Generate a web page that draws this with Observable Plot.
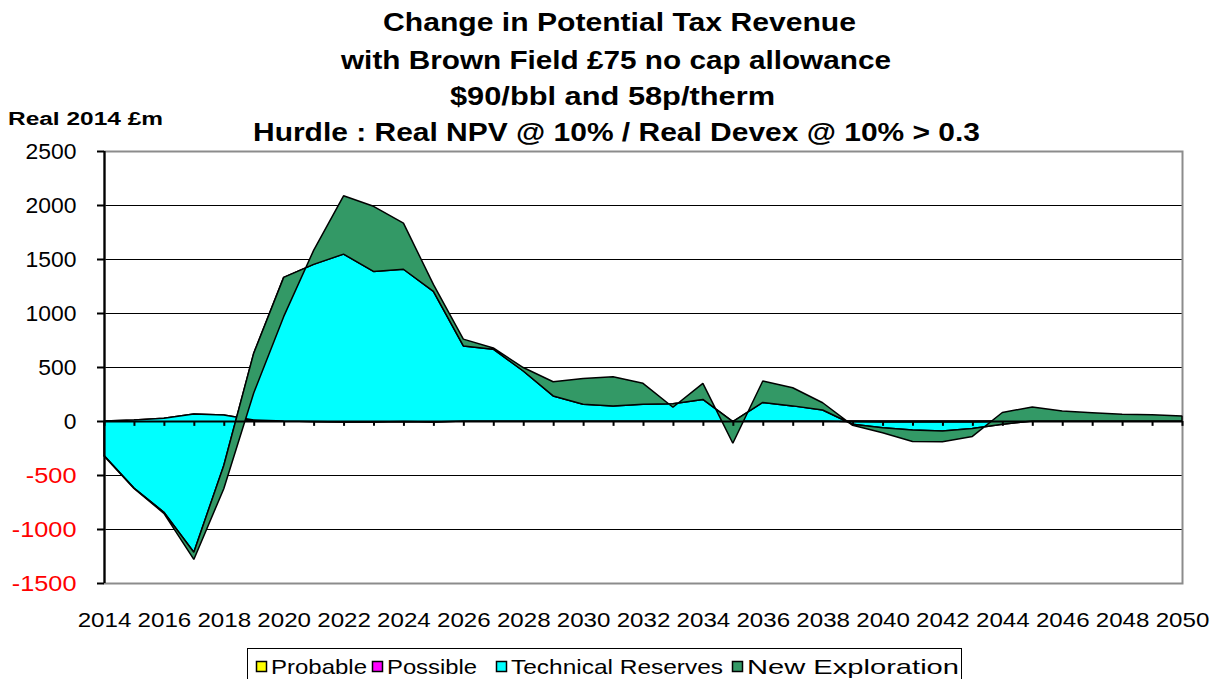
<!DOCTYPE html>
<html>
<head>
<meta charset="utf-8">
<script src="https://cdn.jsdelivr.net/npm/d3@7"></script>
<script src="https://cdn.jsdelivr.net/npm/@observablehq/plot@0.6"></script>
<style>
  html, body { margin: 0; padding: 0; background: #fff; }
  #wrap { position: relative; width: 1214px; height: 679px; overflow: hidden; font-family: "Liberation Sans", Arial, sans-serif; }
  #wrap > svg { position: absolute; left: 0; top: 0; }
</style>
</head>
<body>
<div id="wrap"></div>
<script>
// ---- data ----
const years = [2014,2015,2016,2017,2018,2019,2020,2021,2022,2023,2024,2025,2026,2027,2028,2029,2030,2031,2032,2033,2034,2035,2036,2037,2038,2039,2040,2041,2042,2043,2044,2045,2046,2047,2048,2049,2050];
const probable    = [0,5,15,40,35,5,0,-5,-5,-5,0,-5, 0,0,0,0,0,0,0,0,0,0,0,0,0, -5,-5,-5,-5,-5,0, 0,0,0,0,0,0];
const possible    = [0,5,10,25,20,5,0,0,-5,-5,-5,-5, 0,0,0,0,0,0,0,0,0,0,0,0,0, 0,-5,-5,-5,-5,-5, 0,0,0,0,0,0];
const technical   = [-320,-630,-870,-1280,-467,618,1330,1455,1555,1395,1410,1210, 695,665,463,232,155,140,155,160,200,-5,172,140,102, -25,-52,-73,-83,-60,-26, 0,0,0,0,0,0];
const exploration = [-5,-5,-10,-67,-215,-368,-364,130,540,603,427,65, 63,11,32,131,239,270,194,-33,149,-201,198,168,67, -10,-46,-107,-99,-73,110, 130,93,77,62,58,46];
const seriesNames = ["Probable", "Possible", "Technical Reserves", "New Exploration"];
const seriesColors = ["#FFFF00", "#FF00FF", "#00FFFF", "#339966"];
const yTicks = [-1500,-1000,-500,0,500,1000,1500,2000,2500];
const xLabelYears = [2014,2016,2018,2020,2022,2024,2026,2028,2030,2032,2034,2036,2038,2040,2042,2044,2046,2048,2050];
const titleLines = ["Change in Potential Tax Revenue", "with Brown Field £75 no cap allowance", "$90/bbl and 58p/therm", "Hurdle : Real NPV @ 10% / Real Devex @ 10% > 0.3"];
const yLabel = "Real 2014 £m";

// ---- Excel-style cumulative stacking (signed running sum) ----
const allSeries = [probable, possible, technical, exploration];
const running = years.map(() => 0);
const layers = allSeries.map((vals, k) => {
  const rows = years.map((yr, i) => {
    const lo = running[i];
    const hi = lo + vals[i];
    return {year: yr, lo, hi};
  });
  rows.forEach((r, i) => running[i] = r.hi);
  return rows;
});

const tickDepth = -45; // short year ticks hanging below zero line (data units)

const chart = Plot.plot({
  width: 1214,
  height: 679,
  marginLeft: 104,
  marginRight: 32,
  marginTop: 151,
  marginBottom: 96,
  style: {fontFamily: "'Liberation Sans', Arial, sans-serif", fontSize: "22px", background: "transparent", overflow: "visible"},
  x: {domain: [years[0], years[years.length - 1]]},
  y: {domain: [yTicks[0], yTicks[yTicks.length - 1]]},
  marks: [
    Plot.gridY(yTicks, {stroke: "#000", strokeOpacity: 1, strokeWidth: 1.2}),
    Plot.frame({stroke: "#8c8c8c", strokeWidth: 2}),
    ...layers.map((rows, k) => Plot.areaY(rows, {
      x: "year", y1: "lo", y2: "hi",
      fill: seriesColors[k], fillOpacity: 1,
      stroke: "#000", strokeWidth: 1.5, strokeLinejoin: "miter"
    })),
    Plot.ruleY([0], {stroke: "#000", strokeWidth: 2.2}),
    Plot.ruleX(years, {x: d => d, y1: 0, y2: tickDepth, stroke: "#000", strokeWidth: 2}),
    Plot.ruleX([years[0]], {stroke: "#000", strokeWidth: 2.2}),
    Plot.axisY(yTicks.filter(v => v >= 0), {anchor: "left", label: null, tickSize: 7, tickPadding: 21, stroke: "#000", strokeWidth: 2, fill: "#000", fontSize: 22, tickFormat: d => String(d)}),
    Plot.axisY(yTicks.filter(v => v < 0), {anchor: "left", label: null, tickSize: 7, tickPadding: 21, stroke: "#000", strokeWidth: 2, fill: "#ff0000", fontSize: 22, tickFormat: d => String(d)}),
    Plot.axisX(xLabelYears, {anchor: "bottom", label: null, tickSize: 0, tickPadding: 29, fill: "#000", fontSize: 21, tickFormat: d => String(d)})
  ]
});

const wrap = document.getElementById("wrap");
wrap.appendChild(chart);

// slightly widen tick labels to match the reference's wide rendering
chart.querySelectorAll('g[aria-label="x-axis tick label"] text').forEach(t => {
  const w = t.getComputedTextLength();
  t.setAttribute("textLength", (w * 1.15).toFixed(1));
  t.setAttribute("lengthAdjust", "spacingAndGlyphs");
});
chart.querySelectorAll('g[aria-label="y-axis tick label"] text').forEach(t => {
  const w = t.getComputedTextLength();
  t.setAttribute("textLength", (w * (t.textContent.startsWith("-") ? 1.15 : 1.04)).toFixed(1));
  t.setAttribute("lengthAdjust", "spacingAndGlyphs");
});

// ---- titles and legend overlay ----
const ns = "http://www.w3.org/2000/svg";
const ov = document.createElementNS(ns, "svg");
ov.setAttribute("width", 1214);
ov.setAttribute("height", 679);
ov.style.fontFamily = "'Liberation Sans', Arial, sans-serif";
function txt(str, x, y, size, weight, len, anchor) {
  const t = document.createElementNS(ns, "text");
  t.textContent = str;
  t.setAttribute("x", x); t.setAttribute("y", y);
  t.setAttribute("font-size", size);
  t.setAttribute("font-weight", weight);
  t.setAttribute("text-anchor", anchor || "start");
  if (len) { t.setAttribute("textLength", len); t.setAttribute("lengthAdjust", "spacingAndGlyphs"); }
  ov.appendChild(t);
  return t;
}
const titleSpec = [[383, 31, 473], [341, 69, 550], [450, 105, 325], [253, 141, 727]];
titleLines.forEach((s, i) => txt(s, titleSpec[i][0], titleSpec[i][1], 25, "bold", titleSpec[i][2]));
txt(yLabel, 8, 125, 18, "bold", 155);

// legend
const box = document.createElementNS(ns, "rect");
box.setAttribute("x", 247.5); box.setAttribute("y", 648.5);
box.setAttribute("width", 714); box.setAttribute("height", 60);
box.setAttribute("fill", "#fff"); box.setAttribute("stroke", "#000"); box.setAttribute("stroke-width", 1);
ov.appendChild(box);
const legSpec = [[256, 96], [372, 90], [496, 212], [732, 212]];
seriesNames.forEach((name, k) => {
  const r = document.createElementNS(ns, "rect");
  r.setAttribute("x", legSpec[k][0] + 0.5); r.setAttribute("y", 661.5);
  r.setAttribute("width", 10); r.setAttribute("height", 10);
  r.setAttribute("fill", seriesColors[k]); r.setAttribute("stroke", "#000"); r.setAttribute("stroke-width", 1.5);
  ov.appendChild(r);
  txt(name, legSpec[k][0] + 15, 674, 21, "normal", legSpec[k][1]);
});
wrap.appendChild(ov);
</script>
</body>
</html>
